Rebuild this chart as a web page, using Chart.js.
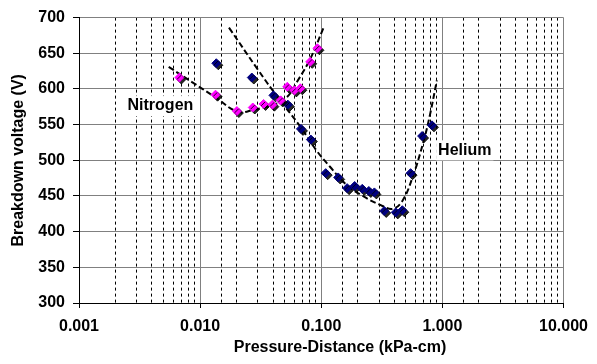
<!DOCTYPE html>
<html>
<head>
<meta charset="utf-8">
<script src="https://cdn.jsdelivr.net/npm/chart.js@4.4.1/dist/chart.umd.min.js"></script>
<style>
  html, body { margin: 0; padding: 0; background: #fff; }
  #wrap { width: 597px; height: 364px; position: relative; }
</style>
</head>
<body>
<div id="wrap"><canvas id="chart"></canvas></div>
<script>
// Measured points (pressure-distance in kPa-cm, breakdown voltage in V)
const heliumX = [0.0136, 0.0267, 0.0403, 0.053, 0.068, 0.0821, 0.1088, 0.138, 0.1635, 0.1887,
  0.218, 0.247, 0.2745, 0.331, 0.412, 0.467, 0.546, 0.68, 0.82];
const heliumY = [636, 616, 591, 578, 544, 529, 482, 476, 461, 464,
  460, 457, 455, 429, 427, 430, 482, 534, 549];

const nitrogenX = [0.00674, 0.0134, 0.0201, 0.0272, 0.0334, 0.0395, 0.0462, 0.0524, 0.060, 0.0672, 0.081, 0.093];
const nitrogenY = [616, 592, 569, 574, 579, 578, 584, 603, 598, 601, 638, 657];

// Dashed trend curves
const heliumTrendX = [0.0173, 0.0297, 0.0434, 0.066, 0.092, 0.118, 0.161, 0.22, 0.32, 0.39, 0.467, 0.564, 0.70, 0.79, 0.90];
const heliumTrendY = [686, 628, 589, 549, 513, 491, 466, 450, 436, 432, 443, 475, 527, 564, 612];

const nitrogenTrendX = [0.0055, 0.0085, 0.0132, 0.0205, 0.028, 0.0408, 0.0524, 0.0631, 0.081, 0.104];
const nitrogenTrendY = [631, 610, 589, 568, 571, 578, 589, 610, 642, 685];

const xTickLabels = ['0.001', '0.010', '0.100', '1.000', '10.000'];

const FONT_FAMILY = '"Liberation Sans", Arial, sans-serif';
const boldFont = { family: FONT_FAMILY, size: 16, weight: 'bold' };

function pts(xs, ys) { return xs.map((x, i) => ({ x, y: ys[i] })); }

function isDecade(v) {
  const l = Math.log10(v);
  return Math.abs(l - Math.round(l)) < 1e-6;
}

// Excel-like hard black shadow under the markers
const shadowPlugin = {
  id: 'markerShadow',
  beforeDatasetDraw(chart, args) {
    if (!chart.data.datasets[args.index].shadow) return;
    const c = chart.ctx;
    c.save();
    c.shadowColor = 'rgba(0,0,0,0.85)';
    c.shadowOffsetX = 2;
    c.shadowOffsetY = 2;
    c.shadowBlur = 0;
  },
  afterDatasetDraw(chart, args) {
    if (!chart.data.datasets[args.index].shadow) return;
    chart.ctx.restore();
  },
};

// Series names inside the plot (white box behind) + x axis title
const textPlugin = {
  id: 'freeText',
  afterDatasetsDraw(chart) {
    const c = chart.ctx;
    const xs = chart.scales.x, ys = chart.scales.y;
    c.save();
    c.font = `bold 16px ${FONT_FAMILY}`;
    c.textAlign = 'center';
    c.textBaseline = 'middle';
    [['Nitrogen', 0.0047, 576], ['Helium', 1.53, 514]].forEach(([t, vx, vy]) => {
      const px = xs.getPixelForValue(vx), py = ys.getPixelForValue(vy);
      const w = c.measureText(t).width;
      c.fillStyle = '#fff';
      c.fillRect(px - w / 2 - 2, py - 10, w + 4, 20);
      c.fillStyle = '#000';
      c.fillText(t, px, py);
    });
    c.restore();
  },
  afterDraw(chart) {
    const c = chart.ctx;
    c.save();
    c.font = `bold 16px ${FONT_FAMILY}`;
    c.fillStyle = '#000';
    c.textAlign = 'center';
    c.textBaseline = 'middle';
    c.fillText('Pressure-Distance (kPa-cm)', 340, 348);
    c.restore();
  },
};

new Chart(document.getElementById('chart'), {
  type: 'scatter',
  data: {
    datasets: [
      {
        label: 'Nitrogen', data: pts(nitrogenX, nitrogenY), order: 0, shadow: true,
        pointStyle: 'rectRot', pointRadius: 4.5, borderWidth: 1,
        backgroundColor: '#ff00ff', borderColor: '#ff00ff',
      },
      {
        label: 'Helium', data: pts(heliumX, heliumY), order: 1, shadow: true,
        pointStyle: 'rectRot', pointRadius: 4.5, borderWidth: 1,
        backgroundColor: '#000080', borderColor: '#000080',
      },
      {
        label: 'Helium trend', data: pts(heliumTrendX, heliumTrendY), order: 2,
        showLine: true, pointRadius: 0, borderColor: '#000', borderWidth: 2,
        borderDash: [6, 3], tension: 0.4, fill: false,
      },
      {
        label: 'Nitrogen trend', data: pts(nitrogenTrendX, nitrogenTrendY), order: 2,
        showLine: true, pointRadius: 0, borderColor: '#000', borderWidth: 2,
        borderDash: [6, 3], tension: 0.4, fill: false,
      },
    ],
  },
  plugins: [shadowPlugin, textPlugin],
  options: {
    responsive: true, maintainAspectRatio: false, animation: false,
    layout: { padding: { top: 11, right: 27, left: 0, bottom: 0 } },
    plugins: { legend: { display: false }, tooltip: { enabled: false } },
    scales: {
      x: {
        type: 'logarithmic', min: 0.001, max: 10,
        afterFit: (s) => { s.height = 61; },
        border: { color: '#000', width: 1, dash: (c) => (c.tick && !isDecade(c.tick.value) ? [3, 3] : []) },
        grid: {
          lineWidth: 1, tickLength: 5,
          color: (c) => (c.tick && isDecade(c.tick.value) ? '#808080' : '#000'),
          tickColor: (c) => (c.tick && isDecade(c.tick.value) ? '#000' : 'rgba(0,0,0,0)'),
        },
        ticks: {
          autoSkip: false, maxRotation: 0, minRotation: 0, color: '#000', padding: 9, font: boldFont,
          callback: (v) => (isDecade(v) ? xTickLabels[Math.round(Math.log10(v)) + 3] : ''),
        },
      },
      y: {
        min: 300, max: 700,
        afterFit: (s) => { s.width = 79; },
        border: { color: '#000', width: 1 },
        grid: { color: '#808080', lineWidth: 1, tickColor: '#000', tickLength: 6 },
        ticks: { stepSize: 50, color: '#000', padding: 8, font: boldFont },
        title: {
          display: true, text: 'Breakdown voltage (V)', color: '#000', font: boldFont,
          padding: { top: 9, bottom: 0 },
        },
      },
    },
  },
});
</script>
</body>
</html>
